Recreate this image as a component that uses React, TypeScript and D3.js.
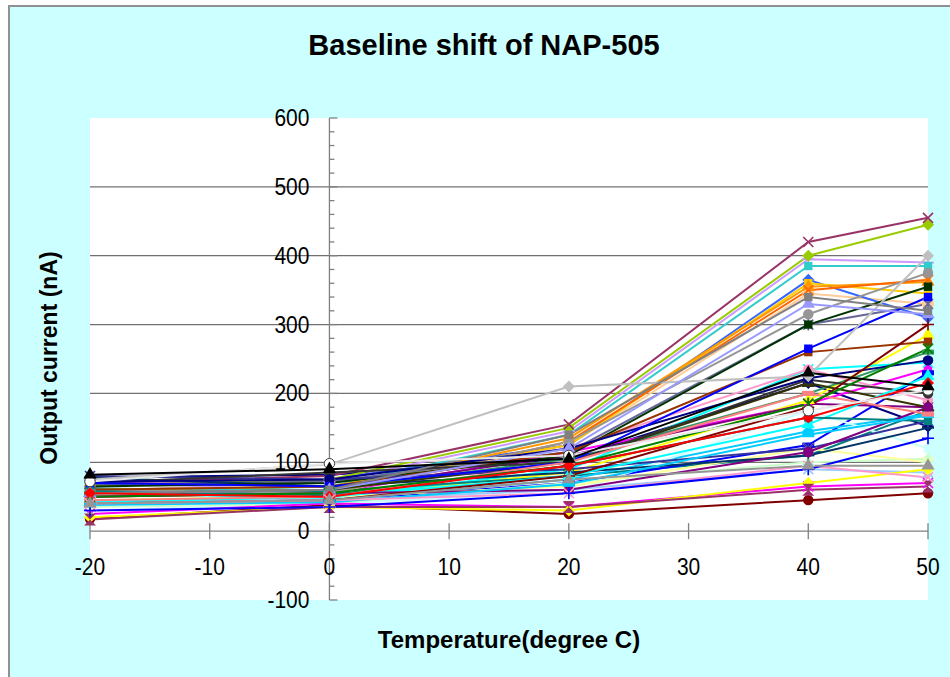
import * as d3 from "d3";

// temperatures (degree C) where each sensor was measured
const temperatures = [-20, 0, 20, 40, 50];

// output current (nA) per sensor, one row per series, in the order of temperatures
const currents: number[][] = [
    [78, 82, 105, 215, 152],
    [60, 55, 115, 185, 235],
    [45, 50, 85, 190, 285],
    [55, 48, 90, 235, 245],
    [50, 60, 110, 185, 180],
    [18, 38, 25, 45, 55],
    [62, 58, 80, 110, 175],
    [40, 45, 70, 125, 230],
    [40, 45, 75, 145, 170],
    [30, 40, 55, 175, 120],
    [35, 40, 70, 100, 105],
    [45, 50, 65, 120, 100],
    [45, 45, 60, 90, 85],
    [72, 70, 120, 235, 190],
    [58, 72, 145, 395, 390],
    [50, 55, 125, 345, 330],
    [65, 75, 125, 365, 310],
    [55, 65, 140, 385, 385],
    [66, 75, 150, 400, 445],
    [60, 65, 125, 360, 345],
    [55, 60, 135, 355, 362],
    [50, 55, 130, 350, 365],
    [68, 72, 115, 300, 330],
    [60, 55, 130, 315, 375],
    [78, 65, 85, 110, 150],
    [55, 60, 105, 200, 260],
    [65, 70, 110, 300, 355],
    [55, 60, 100, 215, 180],
    [60, 65, 115, 260, 275],
    [70, 80, 155, 420, 455],
    [80, 75, 90, 120, 160],
    [70, 85, 100, 220, 200],
    [72, 75, 120, 222, 248],
    [25, 40, 35, 65, 70],
    [20, 35, 30, 70, 90],
    [42, 50, 80, 155, 225],
    [50, 55, 60, 115, 180],
    [40, 45, 80, 180, 300],
    [58, 52, 95, 165, 160],
    [70, 65, 100, 265, 340],
    [38, 42, 68, 140, 168],
    [75, 97, 210, 225, 400],
    [45, 50, 100, 200, 170],
    [50, 55, 95, 185, 265],
    [55, 60, 120, 330, 315],
    [55, 60, 140, 340, 320],
    [55, 50, 95, 165, 215],
    [17, 35, 35, 60, 65],
    [72, 98, 110, 175, 205],
    [40, 45, 55, 95, 78],
    [30, 35, 55, 90, 135],
    [40, 45, 75, 95, 95],
    [82, 90, 105, 230, 210],
];

const lineColors = [
    "#000080", "#FF00FF", "#FFFF00", "#00FFFF", "#800080", "#800000", "#008080", "#0000FF",
    "#00CCFF", "#CCFFFF", "#CCFFCC", "#FFFF99", "#99CCFF", "#FF99CC", "#CC99FF", "#FFCC99",
    "#3366FF", "#33CCCC", "#99CC00", "#FFCC00", "#FF9900", "#FF6600", "#666699", "#969696",
    "#003366", "#339966", "#003300", "#333300", "#993300", "#993366", "#333399", "#333333",
    "#000080", "#FF00FF", "#FFFF00", "#00FFFF", "#800080", "#800000", "#008080", "#0000FF",
    "#00CCFF", "#C0C0C0", "#FF8080", "#008000", "#9999FF", "#808080", "#FF0000", "#993366",
    "#E8E8E8", "#FF99CC", "#0000FF", "#969696", "#000000",
];

const markerShapes = [
    "diamond", "square", "triangle", "x", "star", "circle", "plus", "dash",
    "diamond", "square", "triangle", "x", "star", "circle", "plus", "dash",
    "diamond", "square", "diamond", "square", "triangle", "x", "star", "circle",
    "plus", "dash", "square", "triangle", "square", "x", "star", "circle",
    "circle", "x", "diamond", "triangle", "circle", "plus", "square", "square",
    "dash", "diamond", "dash", "star", "triangle", "square", "diamond", "bowtie",
    "hollow", "x", "plus", "triangle", "triangle",
];

const yTickValues = [-100, 0, 100, 200, 300, 400, 500, 600];
const yMinorValues = d3.range(-100, 601, 20);
const xTickValues = [-20, -10, 0, 10, 20, 30, 40, 50];
const gridValues = [100, 200, 300, 400, 500];

const font = "'Liberation Sans', Arial, sans-serif";

function Marker({ shape, color, cx, cy }: { shape: string; color: string; cx: number; cy: number }) {
    const t = `translate(${cx},${cy})`;
    const sym = (type: d3.SymbolType, size: number) => d3.symbol().type(type).size(size)() as string;
    switch (shape) {
        case "diamond":
            return <path transform={t} d="M0,-6L6,0L0,6L-6,0Z" fill={color} />;
        case "square":
            return <path transform={t} d={sym(d3.symbolSquare, 70)} fill={color} />;
        case "triangle":
            return <path transform={t} d={sym(d3.symbolTriangle, 75)} fill={color} />;
        case "circle":
            return <path transform={t} d={sym(d3.symbolCircle, 85)} fill={color} />;
        case "hollow":
            return <path transform={t} d={sym(d3.symbolCircle, 85)} fill="#ffffff" stroke="#404040" strokeWidth={1} />;
        case "x":
            return <path transform={t} d="M-5,-5L5,5M-5,5L5,-5" stroke={color} strokeWidth={1.6} fill="none" />;
        case "star":
            return <path transform={t} d="M-5,-5L5,5M-5,5L5,-5M0,-6L0,6" stroke={color} strokeWidth={1.6} fill="none" />;
        case "plus":
            return <path transform={t} d="M-6,0L6,0M0,-6L0,6" stroke={color} strokeWidth={1.6} fill="none" />;
        case "dash":
            return <rect x={cx - 6} y={cy - 2.5} width={12} height={5} fill={color} />;
        case "bowtie":
            return <path transform={t} d="M-6,-6L6,-6L-6,6L6,6Z" fill={color} />;
        default:
            return null;
    }
}

export default function App() {
    const width = 950;
    const height = 677;
    const plot = { left: 90, right: 928, top: 118, bottom: 600 };

    const x = d3.scaleLinear().domain([-20, 50]).range([plot.left, plot.right]);
    const y = d3.scaleLinear().domain([-100, 600]).range([plot.bottom, plot.top]);

    const line = d3.line<number>()
        .x((_, i) => x(temperatures[i]))
        .y(d => y(d));

    const x0 = x(0);
    const y0 = y(0);

    return (
        <div style={{ position: "absolute", left: 0, top: 0 }}>
            <svg width={width} height={height} style={{ display: "block" }}>
                <rect width={width} height={height} fill="#ffffff" />
                <rect x={9} y={6} width={width} height={height} fill="#CCFFFF" stroke="#909090" strokeWidth={2} />

                <text x={484} y={55} textAnchor="middle" fontFamily={font} fontWeight="bold" fontSize={29} fill="#000">
                    Baseline shift of NAP-505
                </text>

                <rect x={plot.left} y={plot.top} width={plot.right - plot.left} height={plot.bottom - plot.top} fill="#ffffff" />

                {/* gridlines */}
                {gridValues.map(v => (
                    <line key={v} x1={plot.left} x2={plot.right} y1={y(v)} y2={y(v)} stroke="#707070" strokeWidth={1.3} />
                ))}

                {/* x axis at y = 0 */}
                <line x1={plot.left} x2={plot.right} y1={y0} y2={y0} stroke="#808080" strokeWidth={1.3} />
                {xTickValues.map(v => (
                    <line key={v} x1={x(v)} x2={x(v)} y1={y0 - 8} y2={y0 + 8} stroke="#808080" strokeWidth={1.3} />
                ))}

                {/* y axis at x = 0 */}
                <line x1={x0} x2={x0} y1={plot.top} y2={plot.bottom} stroke="#808080" strokeWidth={1.3} />
                {yMinorValues.map(v => (
                    <line key={v} x1={x0} x2={x0 + (v % 100 === 0 ? 8 : 5)} y1={y(v)} y2={y(v)} stroke="#808080" strokeWidth={1.3} />
                ))}

                {/* series */}
                <g fill="none" strokeWidth={2}>
                    {currents.map((vals, i) => (
                        <path key={i} d={line(vals) as string} stroke={lineColors[i]} />
                    ))}
                </g>
                <g>
                    {currents.map((vals, i) =>
                        vals.map((v, j) => (
                            <Marker key={`${i}-${j}`} shape={markerShapes[i]} color={lineColors[i]} cx={x(temperatures[j])} cy={y(v)} />
                        ))
                    )}
                </g>

                {/* tick labels */}
                {yTickValues.map(v => (
                    <text key={v} transform={`translate(${x0 - 20},${y(v) + 8}) scale(1,1.12)`} textAnchor="end" fontFamily={font} fontSize={21} fill="#000">
                        {v}
                    </text>
                ))}
                {xTickValues.map(v => (
                    <text key={v} transform={`translate(${x(v)},575) scale(1,1.15)`} textAnchor="middle" fontFamily={font} fontSize={21} fill="#000">
                        {v}
                    </text>
                ))}

                {/* axis titles */}
                <text x={509} y={648} textAnchor="middle" fontFamily={font} fontWeight="bold" fontSize={24} fill="#000">
                    Temperature(degree C)
                </text>
                <text transform={`translate(57,358) rotate(-90)`} textAnchor="middle" fontFamily={font} fontWeight="bold" fontSize={23} fill="#000">
                    Output current (nA)
                </text>
            </svg>
        </div>
    );
}
